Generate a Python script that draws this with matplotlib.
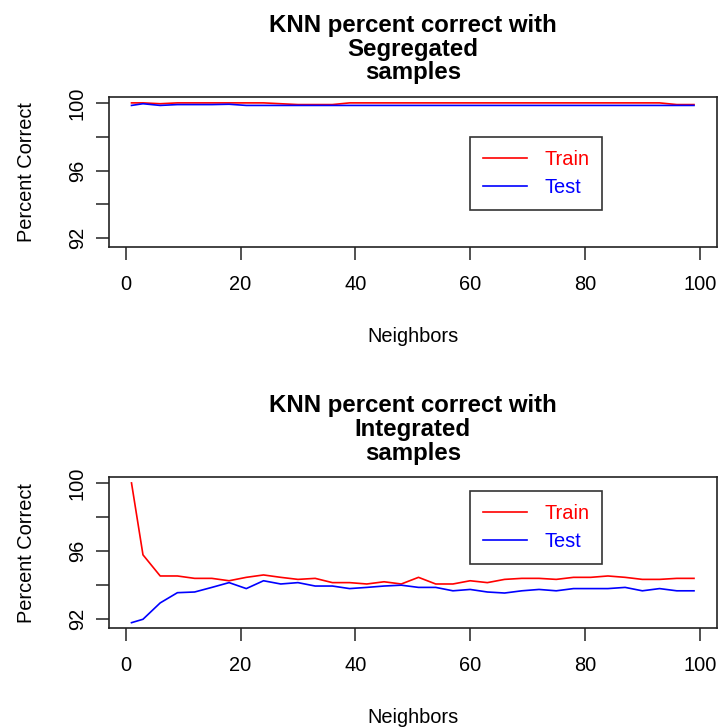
import numpy as np
import matplotlib
matplotlib.use('Agg')
import matplotlib.pyplot as plt

plt.rcParams['font.family'] = ['Liberation Sans', 'DejaVu Sans']

# Number of neighbors (k) used in each run
neighbors = [1, 3, 6, 9, 12, 15, 18, 21, 24, 27, 30, 33, 36, 39, 42, 45, 48,
             51, 54, 57, 60, 63, 66, 69, 72, 75, 78, 81, 84, 87, 90, 93, 96, 99]

# Segregated samples
seg_train = [100.0, 100.0, 99.95, 100.0, 100.0, 100.0, 100.0, 100.0, 100.0, 99.95,
             99.9, 99.9, 99.9, 100.0, 100.0, 100.0, 100.0, 100.0, 100.0, 100.0,
             100.0, 100.0, 100.0, 100.0, 100.0, 100.0, 100.0, 100.0, 100.0, 100.0,
             100.0, 100.0, 99.9, 99.9]
seg_test = [99.85, 99.95, 99.85, 99.9, 99.9, 99.9, 99.92, 99.85, 99.85, 99.85,
            99.85, 99.85, 99.85, 99.85, 99.85, 99.85, 99.85, 99.85, 99.85, 99.85,
            99.85, 99.85, 99.85, 99.85, 99.85, 99.85, 99.85, 99.85, 99.85, 99.85,
            99.85, 99.85, 99.85, 99.85]

# Integrated samples
int_train = [100.0, 95.78, 94.54, 94.54, 94.4, 94.4, 94.26, 94.46, 94.6, 94.46,
             94.34, 94.4, 94.15, 94.15, 94.07, 94.2, 94.07, 94.46, 94.07, 94.07,
             94.26, 94.15, 94.34, 94.4, 94.4, 94.34, 94.46, 94.46, 94.54, 94.46,
             94.34, 94.34, 94.4, 94.4]
int_test = [91.8, 92.0, 92.96, 93.56, 93.6, 93.87, 94.15, 93.8, 94.26, 94.07,
            94.15, 93.95, 93.95, 93.8, 93.87, 93.95, 94.0, 93.87, 93.87, 93.67,
            93.75, 93.6, 93.54, 93.67, 93.75, 93.67, 93.8, 93.8, 93.8, 93.87,
            93.67, 93.8, 93.67, 93.67]

W, H = 718, 727
fig = plt.figure(figsize=(W / 100, H / 100), dpi=100)

panels = [
    ("KNN percent correct with\nSegregated\nsamples", seg_train, seg_test, 97.3, 247.3, 98.0),
    ("KNN percent correct with\nIntegrated\nsamples", int_train, int_test, 477.3, 628.3, 99.5),
]

left_px, right_px = 109, 716.5
lw = 1.2
for title, train, test, top_px, bot_px, leg_y in panels:
    ax = fig.add_axes([left_px / W, 1 - bot_px / H, (right_px - left_px) / W, (bot_px - top_px) / H])
    ax.plot(neighbors, train, color='#FF0000', lw=lw, label='Train')
    ax.plot(neighbors, test, color='#0000FF', lw=lw, label='Test')
    ax.set_xlim(-2.92, 102.92)
    ax.set_ylim(91.47, 100.33)
    ax.set_xticks(np.arange(0, 101, 20))
    ax.set_yticks([92, 94, 96, 98, 100])
    ax.set_yticklabels(['92', '', '96', '', '100'], rotation=90, va='center')
    ax.tick_params(axis='both', direction='out', length=9.4, width=lw, labelsize=14.4, color='#333333')
    ax.tick_params(axis='x', pad=10.8)
    ax.tick_params(axis='y', pad=6.5)
    for s in ax.spines.values():
        s.set_linewidth(lw)
        s.set_color('#222222')

    leg = ax.legend(loc='upper left', bbox_to_anchor=(60, leg_y), bbox_transform=ax.transData,
                    borderaxespad=0, fontsize=14.4, frameon=True, fancybox=False,
                    edgecolor='black', borderpad=0.65, handlelength=2.2, handletextpad=0.85,
                    labelspacing=0.45, labelcolor='linecolor')
    leg.get_frame().set_linewidth(lw)

    # title lines, baselines in pixels
    cx = (left_px + right_px) / 2 / W
    for i, line in enumerate(title.split('\n')):
        base = top_px - 65.6 + i * 23.9
        fig.text(cx, 1 - base / H, line, ha='center', va='baseline',
                 fontsize=17.3, fontweight='bold')

    fig.text(cx, 1 - (bot_px + 94.7) / H, 'Neighbors', ha='center', va='baseline', fontsize=14.4)
    fig.text(31.7 / W, 1 - (top_px + bot_px) / 2 / H, 'Percent Correct', rotation=90,
             ha='center', va='baseline', fontsize=14.4, rotation_mode='anchor')

fig.savefig('out.png', dpi=100)
